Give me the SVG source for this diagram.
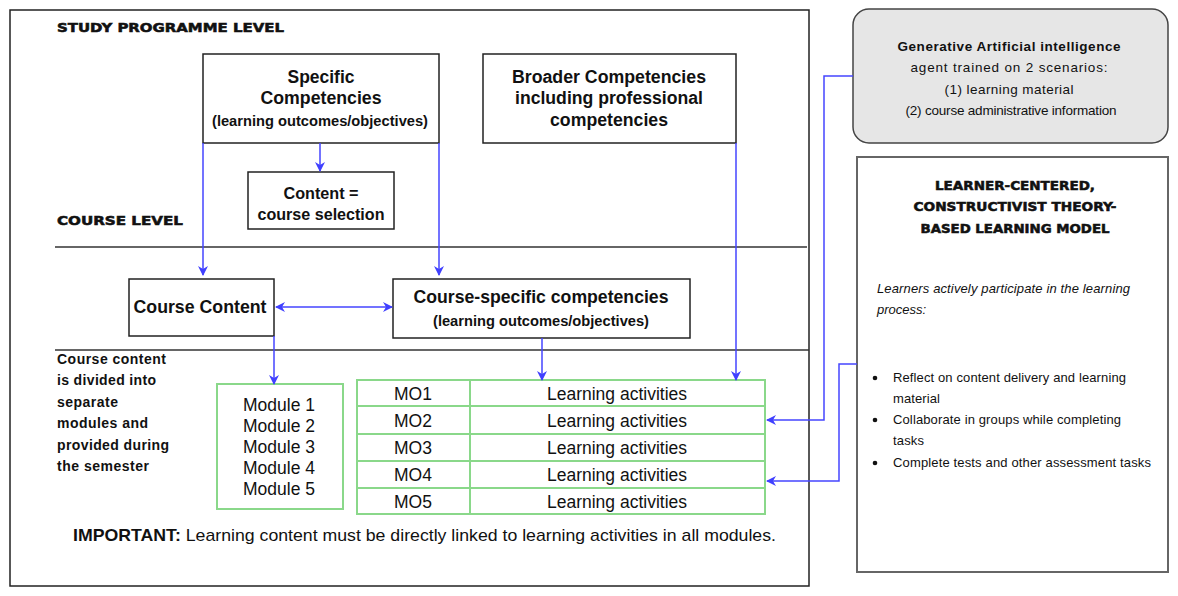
<svg xmlns="http://www.w3.org/2000/svg" width="1178" height="596" viewBox="0 0 1178 596">
<style>
.t{font-family:"Liberation Sans",Arial,sans-serif;fill:#111}
.b{font-weight:bold}
.hv{font-family:"DejaVu Sans","Liberation Sans",sans-serif;font-weight:bold;fill:#111;stroke:#111;stroke-width:0.55}
.box{fill:#fff;stroke:#222;stroke-width:1.5}
.grn{fill:#fff;stroke:#8ad88a;stroke-width:2}
.gl{stroke:#8ad88a;stroke-width:2}
.c{fill:none;stroke:#4545ff;stroke-width:1.5}
.sep{stroke:#333;stroke-width:1.5}
</style>
<defs>
<marker id="ah" markerWidth="10" markerHeight="10" refX="9" refY="5" orient="auto" markerUnits="userSpaceOnUse">
<path d="M0,0 L10,5 L0,10 L3,5 z" fill="#4040ff"/>
</marker>
<marker id="as" markerWidth="10" markerHeight="10" refX="1" refY="5" orient="auto" markerUnits="userSpaceOnUse">
<path d="M10,0 L0,5 L10,10 L7,5 z" fill="#4040ff"/>
</marker>
</defs>
<rect width="1178" height="596" fill="#fff"/>
<g id="frame">
<rect x="10" y="10" width="799" height="576" fill="none" stroke="#222" stroke-width="1.5"/>
<line class="sep" x1="55" y1="247" x2="807" y2="247"/>
<line class="sep" x1="55" y1="350" x2="809" y2="350"/>
<text class="hv" x="57" y="32" font-size="12.5" textLength="227" lengthAdjust="spacingAndGlyphs">STUDY PROGRAMME LEVEL</text>
<text class="hv" x="57" y="225" font-size="12.5" textLength="126" lengthAdjust="spacingAndGlyphs">COURSE LEVEL</text>
<g class="t b" font-size="14" lengthAdjust="spacingAndGlyphs">
<text x="57" y="364" textLength="109">Course content</text>
<text x="57" y="385" textLength="99">is divided into</text>
<text x="57" y="407" textLength="61">separate</text>
<text x="57" y="428" textLength="91">modules and</text>
<text x="57" y="450" textLength="112">provided during</text>
<text x="57" y="471" textLength="92">the semester</text>
</g>
<text class="t" x="73" y="541" font-size="17" textLength="703" lengthAdjust="spacingAndGlyphs"><tspan class="b">IMPORTANT:</tspan> Learning content must be directly linked to learning activities in all modules.</text>
</g>
<g id="specific">
<rect class="box" x="203" y="54" width="236" height="89"/>
<text class="t b" x="321" y="83" font-size="17.5" text-anchor="middle" textLength="67" lengthAdjust="spacingAndGlyphs">Specific</text>
<text class="t b" x="321" y="104" font-size="17.5" text-anchor="middle" textLength="121" lengthAdjust="spacingAndGlyphs">Competencies</text>
<text class="t b" x="320" y="126" font-size="14.5" text-anchor="middle" textLength="216" lengthAdjust="spacingAndGlyphs">(learning outcomes/objectives)</text>
</g>
<g id="content">
<rect class="box" x="248" y="172" width="146" height="57"/>
<text class="t b" x="321" y="199" font-size="16" text-anchor="middle" textLength="75" lengthAdjust="spacingAndGlyphs">Content =</text>
<text class="t b" x="321" y="220" font-size="16" text-anchor="middle" textLength="127" lengthAdjust="spacingAndGlyphs">course selection</text>
</g>
<g id="broader">
<rect class="box" x="483" y="54" width="253" height="89"/>
<text class="t b" x="609" y="83" font-size="17.5" text-anchor="middle" textLength="194" lengthAdjust="spacingAndGlyphs">Broader Competencies</text>
<text class="t b" x="609" y="104" font-size="17.5" text-anchor="middle" textLength="188" lengthAdjust="spacingAndGlyphs">including professional</text>
<text class="t b" x="609" y="126" font-size="17.5" text-anchor="middle" textLength="118" lengthAdjust="spacingAndGlyphs">competencies</text>
</g>
<g id="course-content">
<rect class="box" x="129" y="279" width="145" height="57"/>
<text class="t b" x="200" y="313" font-size="17.5" text-anchor="middle" textLength="133" lengthAdjust="spacingAndGlyphs">Course Content</text>
</g>
<g id="course-specific">
<rect class="box" x="393" y="279" width="297" height="59"/>
<text class="t b" x="541" y="303" font-size="17.5" text-anchor="middle" textLength="255" lengthAdjust="spacingAndGlyphs">Course-specific competencies</text>
<text class="t b" x="541" y="326" font-size="14.5" text-anchor="middle" textLength="216" lengthAdjust="spacingAndGlyphs">(learning outcomes/objectives)</text>
</g>
<g id="modules">
<rect class="grn" x="217" y="384" width="126" height="125"/>
<g class="t" font-size="17.5" text-anchor="middle">
<text x="279" y="411">Module 1</text>
<text x="279" y="432">Module 2</text>
<text x="279" y="453">Module 3</text>
<text x="279" y="474">Module 4</text>
<text x="279" y="495">Module 5</text>
</g>
</g>
<g id="mo-table">
<rect class="grn" x="357" y="380" width="408" height="134"/>
<line class="gl" x1="470" y1="380" x2="470" y2="514"/>
<line class="gl" x1="357" y1="406" x2="765" y2="406"/>
<line class="gl" x1="357" y1="434" x2="765" y2="434"/>
<line class="gl" x1="357" y1="461" x2="765" y2="461"/>
<line class="gl" x1="357" y1="488" x2="765" y2="488"/>
<g class="t" font-size="17.5" text-anchor="middle">
<text x="413" y="400">MO1</text>
<text x="413" y="427">MO2</text>
<text x="413" y="454">MO3</text>
<text x="413" y="481">MO4</text>
<text x="413" y="508">MO5</text>
<text x="617" y="400">Learning activities</text>
<text x="617" y="427">Learning activities</text>
<text x="617" y="454">Learning activities</text>
<text x="617" y="481">Learning activities</text>
<text x="617" y="508">Learning activities</text>
</g>
</g>
<g id="genai">
<rect x="853" y="9" width="315" height="134" rx="16" fill="#e6e6e6" stroke="#444" stroke-width="1.5"/>
<g class="t" font-size="13.5" text-anchor="middle" lengthAdjust="spacingAndGlyphs">
<text class="b" x="1009" y="51" textLength="223">Generative Artificial intelligence</text>
<text x="1009" y="72" textLength="197">agent trained on 2 scenarios:</text>
<text x="1009" y="94" textLength="129">(1) learning material</text>
<text x="1011" y="115" textLength="211">(2) course administrative information</text>
</g>
</g>
<g id="learner-model">
<rect x="857" y="157" width="311" height="415" fill="#fff" stroke="#666" stroke-width="2"/>
<text class="hv" x="1015" y="190" font-size="12.5" text-anchor="middle" textLength="160" lengthAdjust="spacingAndGlyphs">LEARNER-CENTERED,</text>
<text class="hv" x="1015" y="211" font-size="12.5" text-anchor="middle" textLength="203" lengthAdjust="spacingAndGlyphs">CONSTRUCTIVIST THEORY-</text>
<text class="hv" x="1015" y="233" font-size="12.5" text-anchor="middle" textLength="189" lengthAdjust="spacingAndGlyphs">BASED LEARNING MODEL</text>
<g class="t" font-size="13" font-style="italic" lengthAdjust="spacingAndGlyphs">
<text x="877" y="293" textLength="253">Learners actively participate in the learning</text>
<text x="877" y="314" textLength="49">process:</text>
</g>
<g class="t" font-size="13" lengthAdjust="spacingAndGlyphs">
<circle cx="875" cy="378" r="2.3" fill="#111"/>
<circle cx="875" cy="420" r="2.3" fill="#111"/>
<circle cx="875" cy="463" r="2.3" fill="#111"/>
<text x="893" y="382" textLength="233">Reflect on content delivery and learning</text>
<text x="893" y="403" textLength="47">material</text>
<text x="893" y="424" textLength="228">Collaborate in groups while completing</text>
<text x="893" y="445" textLength="31">tasks</text>
<text x="893" y="467" textLength="258">Complete tests and other assessment tasks</text>
</g>
</g>
<g id="connectors">
<line class="c" x1="320" y1="143" x2="320" y2="171" marker-end="url(#ah)"/>
<line class="c" x1="203" y1="143" x2="203" y2="275" marker-end="url(#ah)"/>
<line class="c" x1="439" y1="143" x2="439" y2="275" marker-end="url(#ah)"/>
<line class="c" x1="736" y1="143" x2="736" y2="380" marker-end="url(#ah)"/>
<line class="c" x1="276" y1="307" x2="392" y2="307" marker-start="url(#as)" marker-end="url(#ah)"/>
<line class="c" x1="274" y1="336" x2="274" y2="384" marker-end="url(#ah)"/>
<line class="c" x1="542" y1="338" x2="542" y2="380" marker-end="url(#ah)"/>
<polyline class="c" points="853,76 824,76 824,420 767,420" marker-end="url(#ah)"/>
<polyline class="c" points="857,364 839,364 839,481 767,481" marker-end="url(#ah)"/>
</g>
</svg>
